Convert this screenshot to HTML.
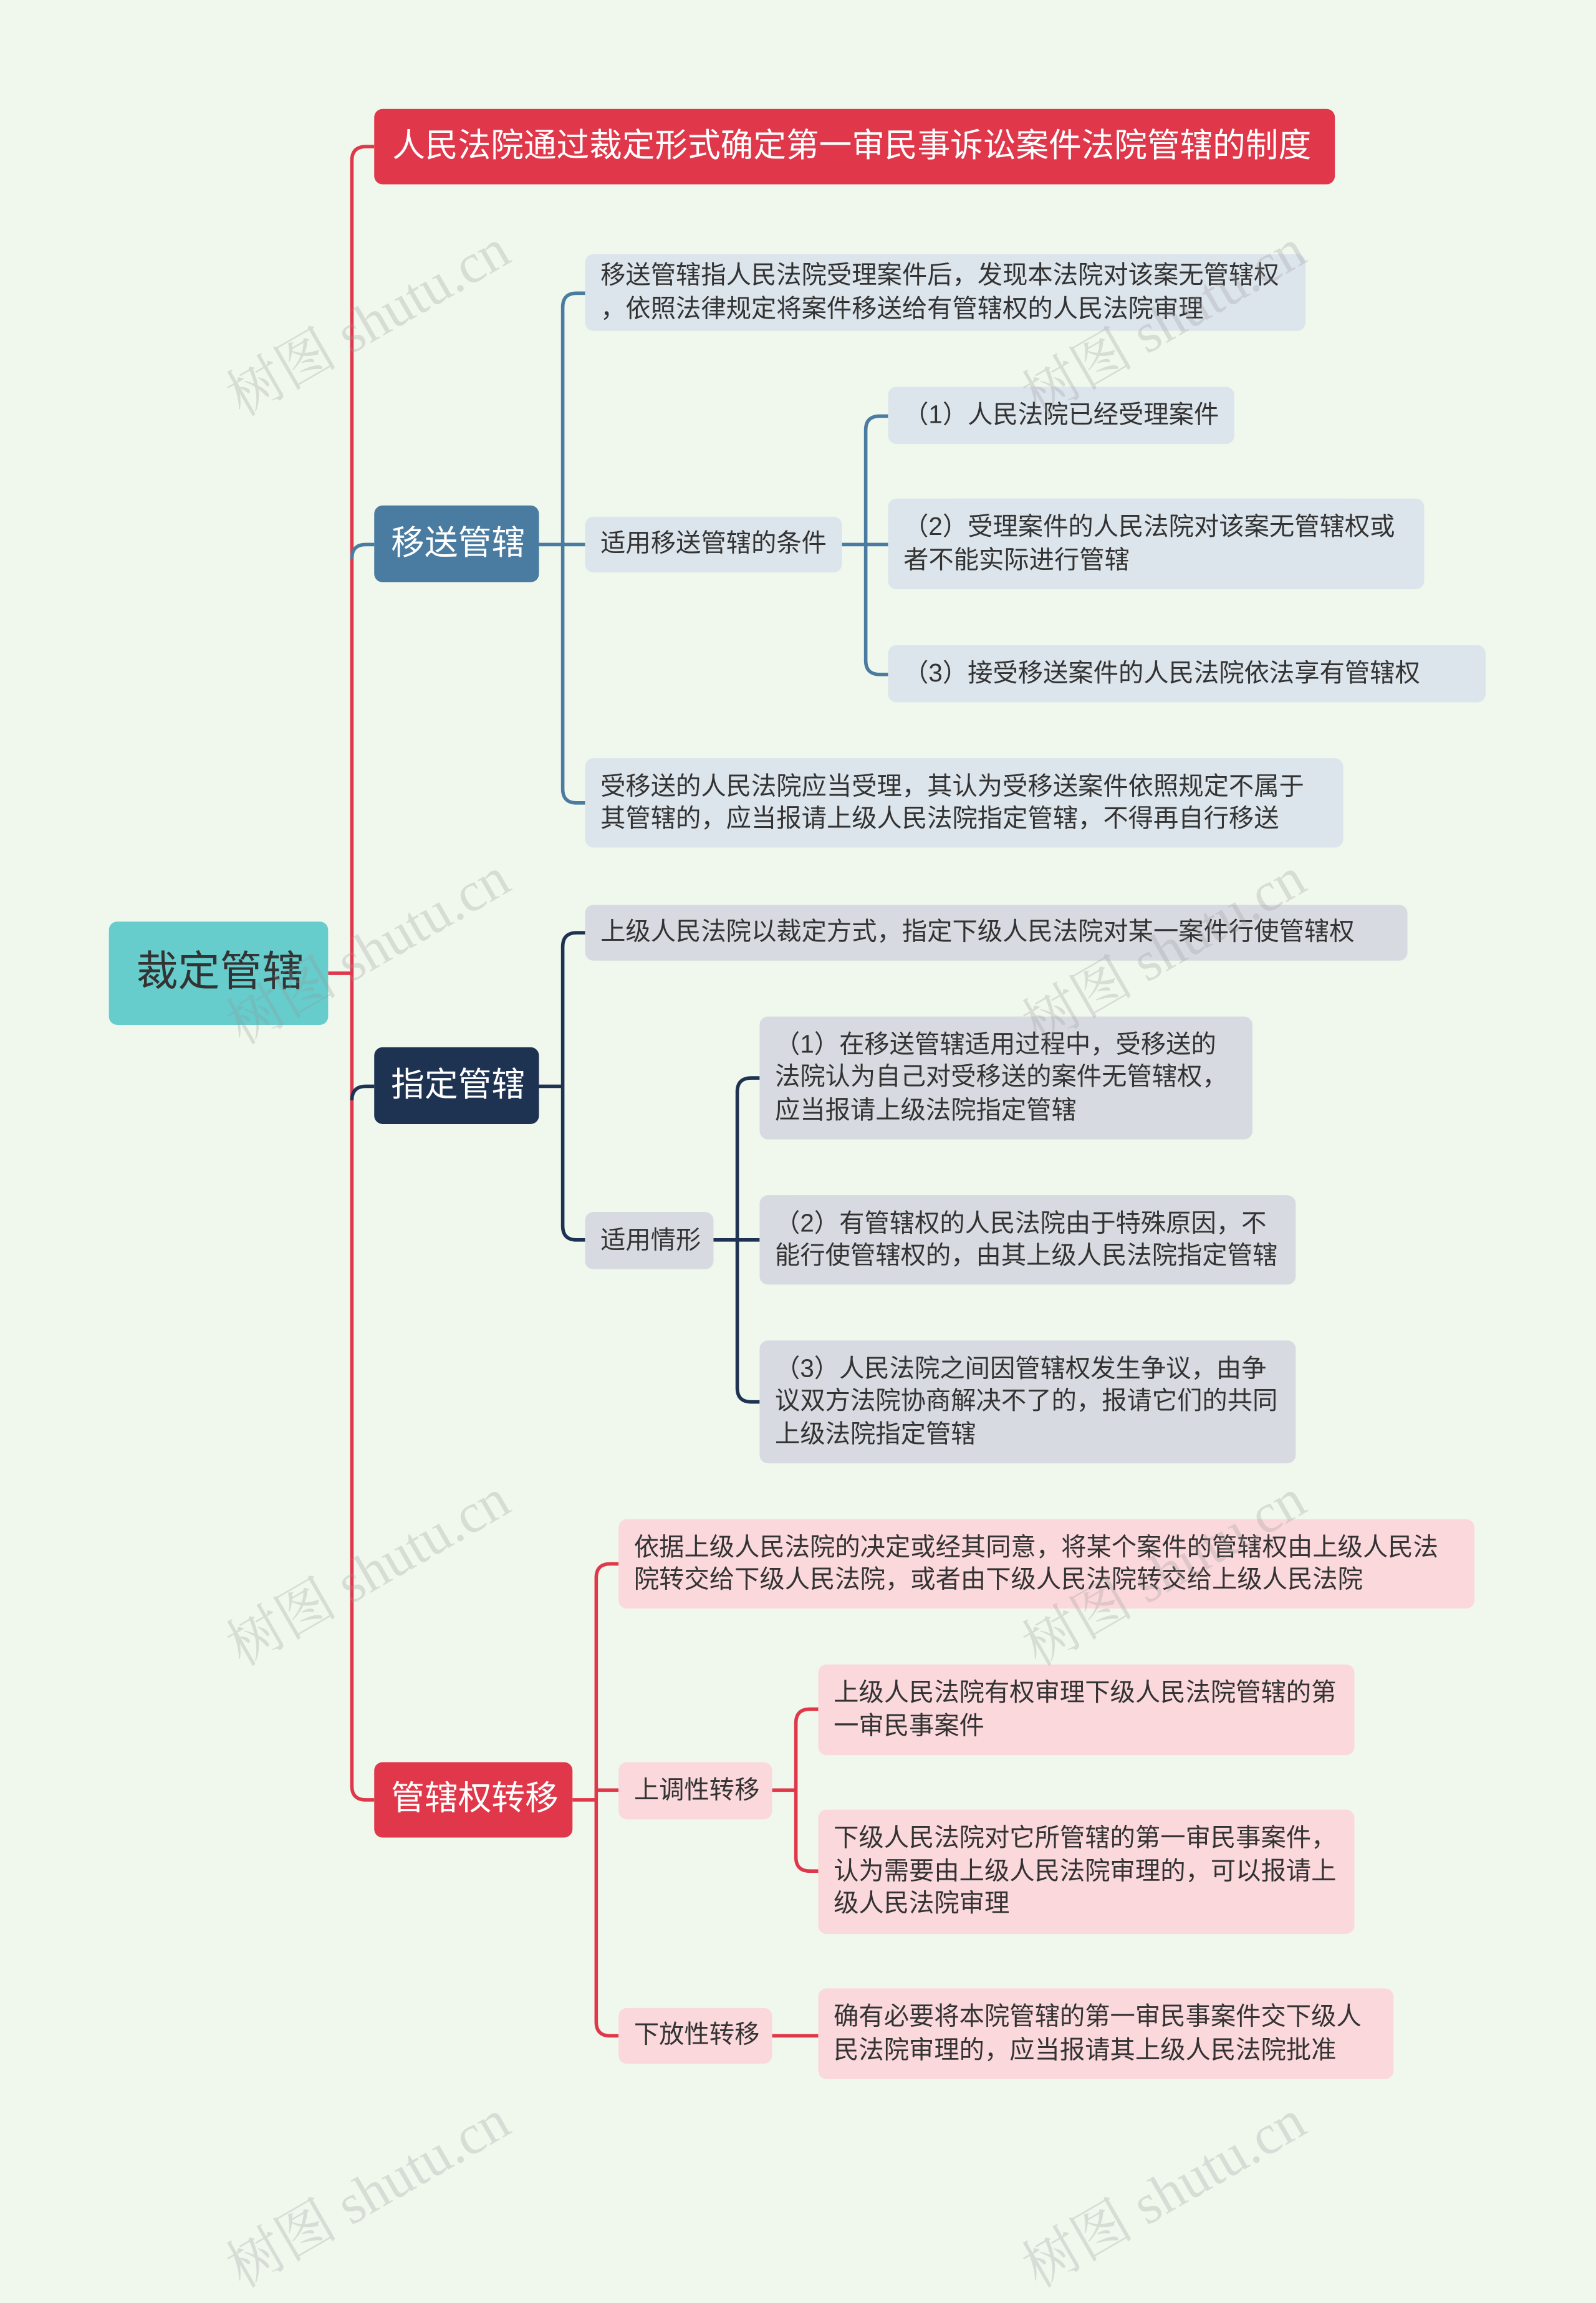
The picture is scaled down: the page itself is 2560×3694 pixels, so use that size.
<!DOCTYPE html>
<html><head><meta charset="utf-8">
<style>
html,body{margin:0;padding:0;}
body{width:2560px;height:3511px;overflow:hidden;background:#f0f8ee;}
#w{position:absolute;left:0;top:0;width:1143px;height:1568px;transform:scale(2.2397);transform-origin:0 0;font-family:"Liberation Sans","Noto Sans CJK SC",sans-serif;}
.n{position:absolute;box-sizing:border-box;border-radius:6px;color:#333;font-size:18px;line-height:23.5px;padding:0 9px 0 11px;display:flex;align-items:center;line-break:anywhere;}
.b{background:#dde5ec;}
.g{background:#d7dbe1;}
.p{background:#fbd8dc;}
.big{color:#fff;font-size:24px;justify-content:center;}
.wm{position:absolute;color:rgba(150,150,150,0.28);font-size:40px;transform:rotate(-30deg);white-space:nowrap;font-family:"Liberation Serif","Noto Serif CJK SC",serif;}
svg{position:absolute;left:0;top:0;}
</style></head><body><div id="w">
<svg width="1143" height="1568" fill="none" stroke-width="2.5">
<path d="M235 697 H252" stroke="#e0384a"/>
<path d="M268 105 H262 Q252 105 252 115 V1279 Q252 1289 262 1289 H268" stroke="#e0384a"/>
<path d="M252 400 Q252 390 262 390 H268" stroke="#4a7ba0"/>
<path d="M252 788 Q252 778 262 778 H268" stroke="#1e3252"/>
<path d="M386 390 H419" stroke="#4a7ba0"/>
<path d="M419 210 H413 Q403 210 403 220 V565 Q403 575 413 575 H419" stroke="#4a7ba0"/>
<path d="M603 390 H636" stroke="#4a7ba0"/>
<path d="M636 298 H630 Q620 298 620 308 V473 Q620 483 630 483 H636" stroke="#4a7ba0"/>
<path d="M386 778 H403" stroke="#1e3252"/>
<path d="M419 668 H413 Q403 668 403 678 V878 Q403 888 413 888 H419" stroke="#1e3252"/>
<path d="M511 888 H544" stroke="#1e3252"/>
<path d="M544 772 H538 Q528 772 528 782 V994 Q528 1004 538 1004 H544" stroke="#1e3252"/>
<path d="M410 1289 H427" stroke="#e0384a"/>
<path d="M443 1120 H437 Q427 1120 427 1130 V1448 Q427 1458 437 1458 H443" stroke="#e0384a"/>
<path d="M427 1282 H443" stroke="#e0384a"/>
<path d="M553 1282 H570" stroke="#e0384a"/>
<path d="M586 1224 H580 Q570 1224 570 1234 V1330 Q570 1340 580 1340 H586" stroke="#e0384a"/>
<path d="M553 1458 H586" stroke="#e0384a"/>
</svg>

<div class="n big" style="left:78px;top:660px;width:157px;height:74px;background:#66cccc;color:#333;font-size:30px;">裁定管辖</div>
<div class="n big" style="left:268px;top:78px;width:688px;height:54px;background:#e0384a;font-size:23.5px;justify-content:flex-start;padding-left:13px;">人民法院通过裁定形式确定第一审民事诉讼案件法院管辖的制度</div>

<div class="n big" style="left:268px;top:362px;width:118px;height:55px;background:#4a7ba0;">移送管辖</div>
<div class="n b" style="left:419px;top:182px;width:516px;height:55px;">移送管辖指人民法院受理案件后，发现本法院对该案无管辖权，依照法律规定将案件移送给有管辖权的人民法院审理</div>
<div class="n b" style="left:419px;top:370px;width:184px;height:40px;">适用移送管辖的条件</div>
<div class="n b" style="left:636px;top:277px;width:248px;height:41px;">（1）人民法院已经受理案件</div>
<div class="n b" style="left:636px;top:357px;width:384px;height:65px;">（2）受理案件的人民法院对该案无管辖权或者不能实际进行管辖</div>
<div class="n b" style="left:636px;top:462px;width:428px;height:41px;">（3）接受移送案件的人民法院依法享有管辖权</div>
<div class="n b" style="left:419px;top:543px;width:543px;height:64px;padding-right:20px;">受移送的人民法院应当受理，其认为受移送案件依照规定不属于其管辖的，应当报请上级人民法院指定管辖，不得再自行移送</div>

<div class="n big" style="left:268px;top:750px;width:118px;height:55px;background:#1e3252;">指定管辖</div>
<div class="n g" style="left:419px;top:648px;width:589px;height:40px;">上级人民法院以裁定方式，指定下级人民法院对某一案件行使管辖权</div>
<div class="n g" style="left:419px;top:868px;width:92px;height:41px;">适用情形</div>
<div class="n g" style="left:544px;top:728px;width:353px;height:88px;">（1）在移送管辖适用过程中，受移送的法院认为自己对受移送的案件无管辖权，应当报请上级法院指定管辖</div>
<div class="n g" style="left:544px;top:856px;width:384px;height:64px;">（2）有管辖权的人民法院由于特殊原因，不能行使管辖权的，由其上级人民法院指定管辖</div>
<div class="n g" style="left:544px;top:960px;width:384px;height:88px;">（3）人民法院之间因管辖权发生争议，由争议双方法院协商解决不了的，报请它们的共同上级法院指定管辖</div>

<div class="n big" style="left:268px;top:1262px;width:142px;height:54px;background:#e0384a;">管辖权转移</div>
<div class="n p" style="left:443px;top:1088px;width:613px;height:64px;">依据上级人民法院的决定或经其同意，将某个案件的管辖权由上级人民法院转交给下级人民法院，或者由下级人民法院转交给上级人民法院</div>
<div class="n p" style="left:443px;top:1262px;width:110px;height:41px;">上调性转移</div>
<div class="n p" style="left:586px;top:1192px;width:384px;height:65px;">上级人民法院有权审理下级人民法院管辖的第一审民事案件</div>
<div class="n p" style="left:586px;top:1296px;width:384px;height:89px;">下级人民法院对它所管辖的第一审民事案件，认为需要由上级人民法院审理的，可以报请上级人民法院审理</div>
<div class="n p" style="left:443px;top:1438px;width:110px;height:40px;">下放性转移</div>
<div class="n p" style="left:586px;top:1424px;width:412px;height:65px;">确有必要将本院管辖的第一审民事案件交下级人民法院审理的，应当报请其上级人民法院批准</div>

<div class="wm" style="left:150px;top:200px;">树图 shutu.cn</div>
<div class="wm" style="left:720px;top:200px;">树图 shutu.cn</div>
<div class="wm" style="left:150px;top:650px;">树图 shutu.cn</div>
<div class="wm" style="left:720px;top:650px;">树图 shutu.cn</div>
<div class="wm" style="left:150px;top:1095px;">树图 shutu.cn</div>
<div class="wm" style="left:720px;top:1095px;">树图 shutu.cn</div>
<div class="wm" style="left:150px;top:1540px;">树图 shutu.cn</div>
<div class="wm" style="left:720px;top:1540px;">树图 shutu.cn</div>
</div></body></html>
